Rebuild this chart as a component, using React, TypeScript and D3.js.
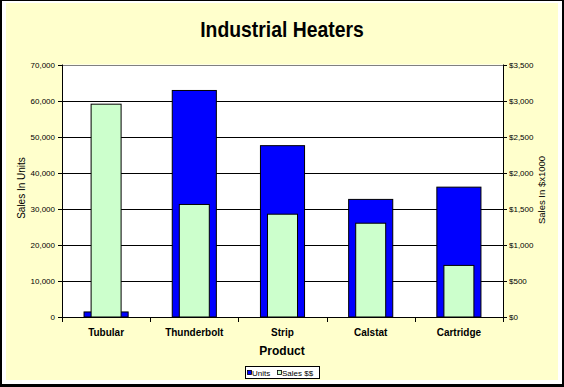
import React from "react";
import * as d3 from "d3";

// chart data
const products = ["Tubular", "Thunderbolt", "Strip", "Calstat", "Cartridge"];
const units = [1400, 62800, 47500, 32600, 36000];
const salesK = [2950, 1560, 1425, 1300, 715];
const unitTicks = [0, 10000, 20000, 30000, 40000, 50000, 60000, 70000];
const salesTicks = [0, 500, 1000, 1500, 2000, 2500, 3000, 3500];

const W = 564;
const H = 387;
const font = "Arial, 'Liberation Sans', sans-serif";

const App = () => {
  const plot = { left: 62, right: 503, top: 64.5, bottom: 317 };

  const x = d3.scaleBand().domain(products).range([plot.left, plot.right]);
  const yUnits = d3.scaleLinear().domain([0, 70000]).range([plot.bottom, plot.top]);
  const ySales = d3.scaleLinear().domain([0, 3500]).range([plot.bottom, plot.top]);

  const fmtUnits = d3.format(",");
  const fmtSales = (v: number) => "$" + d3.format(",")(v);

  const bw = x.bandwidth();
  const unitW = bw * 0.5;
  const salesW = bw * 0.34;

  return (
    <svg
      width={W}
      height={H}
      style={{ position: "absolute", left: 0, top: 0 }}
      fontFamily={font}
    >
      <rect x={0} y={0} width={W} height={H} fill="#fff" />
      <rect x={6} y={3} width={552} height={377} fill="#FFFFCC" />
      {/* frame */}
      <line x1={1} y1={0} x2={1} y2={H} stroke="#000" strokeWidth={2} />
      <line x1={0} y1={0.5} x2={W} y2={0.5} stroke="#000" strokeWidth={1} />
      <line x1={W - 1} y1={0} x2={W - 1} y2={H} stroke="#000" strokeWidth={2} />
      <line x1={0} y1={H - 1.5} x2={W} y2={H - 1.5} stroke="#000" strokeWidth={3} />

      <text
        transform="translate(282,37) scale(0.88,1)"
        textAnchor="middle"
        fontSize={22}
        fontWeight="bold"
        fill="#000"
      >
        Industrial Heaters
      </text>

      {/* plot area */}
      <rect
        x={plot.left}
        y={plot.top}
        width={plot.right - plot.left}
        height={plot.bottom - plot.top}
        fill="#fff"
      />
      {unitTicks.slice(1, -1).map(t => (
        <line
          key={t}
          x1={plot.left}
          x2={plot.right}
          y1={Math.round(yUnits(t)) + 0.5}
          y2={Math.round(yUnits(t)) + 0.5}
          stroke="#000"
        />
      ))}
      <line
        x1={plot.left}
        x2={plot.right}
        y1={Math.round(plot.top) + 0.5}
        y2={Math.round(plot.top) + 0.5}
        stroke="#808080"
      />

      {/* units bars */}
      {units.map((v, i) => (
        <rect
          key={"u" + i}
          x={x(products[i])! + (bw - unitW) / 2}
          y={yUnits(v)}
          width={unitW}
          height={plot.bottom - yUnits(v)}
          fill="#0000FF"
          stroke="#000"
          strokeWidth={1}
        />
      ))}
      {/* sales bars */}
      {salesK.map((v, i) => (
        <rect
          key={"s" + i}
          x={x(products[i])! + (bw - salesW) / 2}
          y={ySales(v)}
          width={salesW}
          height={plot.bottom - ySales(v)}
          fill="#CCFFCC"
          stroke="#000"
          strokeWidth={1}
        />
      ))}

      {/* axes lines */}
      <line x1={plot.left + 0.5} x2={plot.left + 0.5} y1={plot.top} y2={plot.bottom} stroke="#000" />
      <line x1={plot.right + 0.5} x2={plot.right + 0.5} y1={plot.top} y2={plot.bottom} stroke="#000" />
      <line x1={plot.left} x2={plot.right + 1} y1={plot.bottom + 0.5} y2={plot.bottom + 0.5} stroke="#000" />

      {/* left axis */}
      {unitTicks.map(t => (
        <g key={"lt" + t}>
          <line
            x1={plot.left - 4}
            x2={plot.left}
            y1={Math.round(yUnits(t)) + 0.5}
            y2={Math.round(yUnits(t)) + 0.5}
            stroke="#000"
          />
          <text x={plot.left - 7} y={yUnits(t) + 3} textAnchor="end" fontSize={8} fill="#000">
            {fmtUnits(t)}
          </text>
        </g>
      ))}
      {/* right axis */}
      {salesTicks.map(t => (
        <g key={"rt" + t}>
          <line
            x1={plot.right}
            x2={plot.right + 4}
            y1={Math.round(ySales(t)) + 0.5}
            y2={Math.round(ySales(t)) + 0.5}
            stroke="#000"
          />
          <text x={plot.right + 6} y={ySales(t) + 3} textAnchor="start" fontSize={8} fill="#000">
            {fmtSales(t)}
          </text>
        </g>
      ))}
      {/* category ticks and labels */}
      {products.map((p, i) => (
        <g key={p}>
          <line
            x1={Math.round(x(p)!) + 0.5}
            x2={Math.round(x(p)!) + 0.5}
            y1={plot.bottom}
            y2={plot.bottom + 5}
            stroke="#000"
          />
          <text x={x(p)! + bw / 2} y={335.5} textAnchor="middle" fontSize={10} fontWeight="bold" fill="#000">
            {p}
          </text>
        </g>
      ))}
      <line
        x1={plot.right + 0.5}
        x2={plot.right + 0.5}
        y1={plot.bottom}
        y2={plot.bottom + 5}
        stroke="#000"
      />

      <text x={282} y={355} textAnchor="middle" fontSize={12} fontWeight="bold" fill="#000">
        Product
      </text>
      <text
        transform="translate(25,188) rotate(-90)"
        textAnchor="middle"
        fontSize={10}
        fill="#000"
      >
        Sales In Units
      </text>
      <text
        transform="translate(545,190) rotate(-90)"
        textAnchor="middle"
        fontSize={9.5}
        fill="#000"
      >
        Sales In $x1000
      </text>

      {/* legend */}
      <rect x={245.5} y={366.5} width={74} height={12} fill="#fff" stroke="#000" />
      <rect x={247.5} y={370.5} width={4} height={4} fill="#0000FF" stroke="#000" strokeWidth={0.8} />
      <text x={252} y={375.5} fontSize={8} fill="#000">Units</text>
      <rect x={277.5} y={370.5} width={4} height={4} fill="#CCFFCC" stroke="#000" strokeWidth={0.8} />
      <text x={282} y={375.5} fontSize={8} fill="#000">Sales $$</text>
    </svg>
  );
};

export default App;
